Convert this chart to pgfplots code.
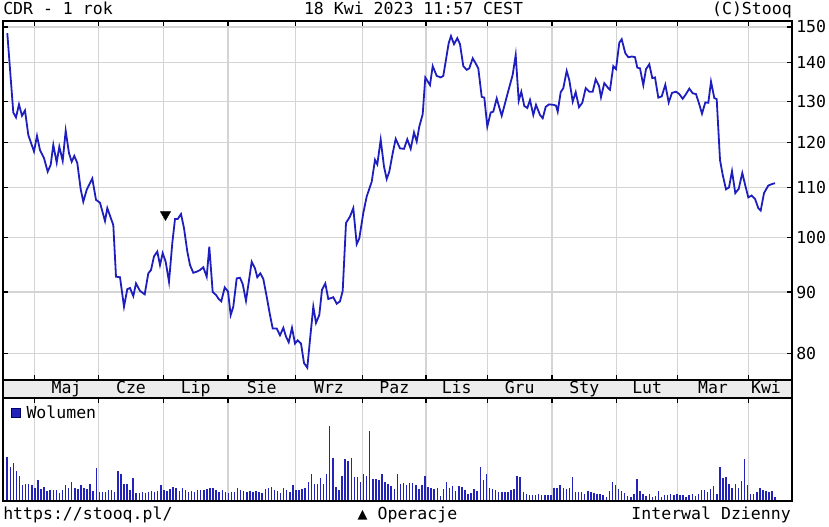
\documentclass[border=0pt]{standalone}
\usepackage{fontspec}
\setmainfont{DejaVu Sans Mono}
\usepackage{pgfplots}
\pgfplotsset{compat=1.18}
\definecolor{lineblue}{RGB}{30,30,190}
\definecolor{volblue}{RGB}{35,35,185}
\definecolor{gridgray}{RGB}{212,212,212}
\definecolor{bandgray}{RGB}{236,236,236}
\pgfplotsset{
  stq/.style={scale only axis, width=591.75pt, xmin=3, xmax=792,
    anchor=south west,
    axis line style={line width=1.2pt, black},
    xtick={34.3,98.7,163.3,228,295.3,362.7,426,487.3,552,616.7,677.7,748.3},
    xticklabels={},
    tick style={black, line width=0.9pt},
    major tick length=3.75pt,
    tick align=inside,
    grid style={gridgray, line width=0.9pt},
    xmajorgrids}
}
\begin{document}
\fontsize{12.4}{14}\selectfont
\begin{tikzpicture}
\path[use as bounding box] (0pt,0pt) rectangle (621.75pt,394.5pt);

% price panel
\begin{axis}[stq, at={(2.25pt,109.5pt)}, height=269.25pt,
  ymode=log, ymin=75.98, ymax=151.74,
  ytick={80,90,100,110,120,130,140,150},
  yticklabels={80,90,100,110,120,130,140,150},
  ymajorgrids, ytick pos=both, yticklabel pos=right, xtick pos=both,
  yticklabel style={anchor=west, inner sep=0pt, xshift=3pt}]
\addplot[lineblue, line width=1.35pt] coordinates {
(7.3,148.2)(13.3,127.2)(16,126.0)(19,129.2)(22,126.4)(25,127.7)(28.3,121.8)(34,118.0)(37,121.6)(40,118.3)
(44,116.5)(47.7,113.5)(50.7,115.0)(53.3,119.5)(56.7,115.5)(59.3,119.1)(62.7,115.9)(65.7,122.8)(69,117.6)(71.7,115.7)
(74.3,117.0)(77.3,115.4)(80.7,109.7)(83.3,107.1)(86.7,109.6)(92.3,112.0)(96,107.5)(100,106.9)(105,103.2)(107.3,105.8)
(113.3,102.4)(116,92.7)(120,92.6)(124,87.5)(127.3,90.5)(130,90.7)(133.3,89.3)(136,91.5)(140,90.2)(144.7,89.6)
(148.3,93.3)(151,93.9)(154,96.4)(157.3,97.3)(160,94.8)(162.7,97.0)(165.7,95.4)(169,91.8)(172.3,98.9)(175,103.6)
(177.7,103.6)(181,104.6)(184,101.8)(187.3,97.3)(190,94.8)(193.3,93.4)(196.7,93.6)(200,93.9)(203.3,94.4)(206.7,92.7)
(209.3,98.2)(212.7,90.0)(216,89.5)(218.7,88.8)(221.3,88.4)(224.7,90.8)(228,90.1)(230.7,86.1)(233.3,87.5)(236.7,92.4)
(240,92.5)(242.7,91.4)(246,88.5)(251.7,95.4)(255,94.2)(257.3,92.6)(260.3,93.3)(263.3,92.3)(266.7,89.2)(270,86.1)
(272.7,83.9)(276.7,83.9)(280,82.8)(283.3,84.0)(286,82.6)(288.7,81.7)(292,84.0)(295,81.5)(297.7,82.0)(301,81.5)
(304,78.5)(307.3,77.8)(310,82.1)(313.3,87.5)(316,84.8)(319.3,86.1)(322,90.4)(325.3,91.5)(328.3,88.8)(333.3,89.1)
(336.7,88.0)(340,88.4)(342.7,90.2)(346,102.8)(350,104.1)(353.3,105.8)(356.7,98.7)(359.3,99.8)(363.3,104.8)(366.7,108.2)
(371.7,111.3)(375,116.1)(377.3,115.1)(380.7,120.7)(384,114.6)(386.7,111.9)(389.3,113.5)(392.7,117.6)(395.7,120.9)(400,118.7)
(404,118.6)(407.3,120.8)(410.7,118.6)(414,122.4)(416.7,120.3)(419.3,123.8)(422.7,126.8)(425.3,136.1)(430,134.1)(432.7,139.1)
(436.7,136.5)(440.7,136.1)(443.3,136.5)(448.7,145.4)(451,147.4)(454,145.1)(457.3,146.8)(460,145.1)(463.3,139.1)(466.7,138.1)
(469.3,138.5)(472.7,141.2)(475.3,140.0)(478.3,138.5)(481.7,131.1)(484.3,130.9)(487.3,123.8)(490.7,127.2)(493.3,127.4)(496.7,130.7)
(501.7,126.4)(508.3,132.6)(512.7,136.8)(515.7,142.1)(518.7,130.1)(521.3,132.4)(524.3,128.8)(527.3,128.3)(530,130.3)(533.3,126.6)
(536,129.1)(540,126.6)(542.7,125.8)(545.7,128.6)(549,129.2)(553.3,129.1)(556,128.9)(557.7,127.4)(560.7,132.3)(563.3,133.3)
(566.7,137.8)(569.3,135.4)(572.7,129.9)(575.7,132.3)(579,128.5)(582.3,129.6)(585.7,133.3)(589.3,132.4)(592.7,132.4)(595.7,135.6)
(599,133.9)(601,131.0)(604.3,134.6)(608.3,133.3)(610,132.9)(613.3,139.1)(616,138.3)(619.3,145.5)(621.7,146.5)(625.3,142.6)
(628.3,141.5)(632,141.7)(635,141.5)(637.3,138.7)(640,138.5)(643.3,134.1)(646,138.3)(649.3,139.6)(652.3,135.9)(655,136.1)
(658.3,130.9)(661.7,131.2)(665.3,134.2)(668.7,129.7)(672,132.1)(676,132.4)(679.3,131.8)(682.7,130.6)(686,131.8)(689.3,133.2)
(692.7,132.0)(696,131.8)(699.3,129.2)(702,126.9)(705.3,129.7)(708.3,129.6)(711,135.0)(714.3,130.8)(716.7,130.5)(720,116.1)
(722.7,112.8)(726,109.7)(729,110.1)(732,113.6)(735.3,108.9)(738.7,109.8)(742.3,113.2)(745.3,110.5)(748.3,108.0)(751.7,108.4)
(755,107.7)(758.3,105.8)(760.7,105.3)(764,108.9)(768.3,110.5)(771.7,110.8)(775,111.0)
};
\addplot[only marks, mark=triangle*, mark size=4.4pt, mark options={rotate=180, fill=black, draw=black}] coordinates {(165.5,104.5)};
\end{axis}

% month band
\begin{axis}[at={(2.25pt,96pt)}, anchor=south west, scale only axis, width=591.75pt, height=13.5pt,
  xmin=3, xmax=792, ymin=0, ymax=1, xtick=\empty, ytick=\empty,
  axis line style={line width=1.2pt, black},
  axis background/.style={fill=bandgray}]
\end{axis}

% volume panel
\begin{axis}[stq, at={(2.25pt,18.75pt)}, height=77.25pt, ymin=-1, ymax=102, ytick=\empty,
  xtick pos=right,
  legend style={at={(axis description cs:0.0095,0.95)}, anchor=north west, draw=none, fill=none,
    inner sep=0pt, nodes={inner sep=1.5pt}},
  legend image code/.code={\draw[fill=volblue, draw=black!60!blue, line width=0.5pt] (0pt,-3.6pt) rectangle (7.2pt,3.6pt); \path (9.5pt,0pt);}]
\addplot[ycomb, draw=volblue, line width=1.1pt] table[row sep=\\, x expr={7.2+3.072*\coordindex}, y index=0] {
v\\
43\\33\\37\\29\\24\\15\\16\\16\\15\\12\\
20\\11\\13\\9\\10\\10\\10\\7\\10\\15\\
12\\18\\12\\11\\15\\12\\11\\16\\9\\32\\
8\\8\\8\\10\\10\\8\\29\\26\\16\\16\\
10\\22\\7\\7\\8\\7\\8\\9\\8\\9\\
15\\10\\9\\11\\13\\12\\9\\12\\10\\8\\
9\\8\\10\\10\\10\\11\\12\\12\\10\\8\\
10\\8\\7\\8\\8\\12\\10\\9\\8\\9\\
8\\9\\8\\7\\11\\12\\13\\10\\9\\7\\
12\\10\\8\\15\\10\\10\\11\\12\\18\\26\\
16\\16\\22\\16\\26\\74\\42\\13\\10\\24\\
41\\39\\42\\23\\23\\18\\26\\24\\69\\21\\
21\\20\\26\\18\\16\\14\\11\\26\\16\\17\\
15\\17\\17\\15\\11\\15\\24\\13\\12\\11\\
12\\4\\11\\18\\12\\14\\9\\14\\13\\10\\
6\\7\\11\\9\\33\\20\\26\\12\\11\\10\\
8\\8\\8\\8\\10\\11\\24\\23\\8\\6\\
5\\5\\5\\6\\5\\5\\5\\5\\12\\12\\
15\\12\\11\\12\\23\\8\\8\\8\\6\\9\\
8\\7\\6\\6\\5\\3\\9\\18\\15\\11\\
9\\7\\4\\3\\6\\21\\9\\6\\4\\6\\
3\\4\\9\\3\\5\\5\\6\\5\\6\\5\\
5\\3\\5\\6\\4\\6\\10\\10\\8\\11\\
14\\6\\33\\22\\23\\16\\12\\16\\12\\19\\
41\\15\\6\\6\\8\\12\\10\\9\\8\\9\\
3\\
};
\addlegendentry{Wolumen}
\end{axis}

\begin{scope}[x=0.75pt,y=0.75pt]
\node[anchor=base, inner sep=0pt] at (66.5,133) {Maj};
\node[anchor=base, inner sep=0pt] at (131,133) {Cze};
\node[anchor=base, inner sep=0pt] at (195.7,133) {Lip};
\node[anchor=base, inner sep=0pt] at (261.7,133) {Sie};
\node[anchor=base, inner sep=0pt] at (329,133) {Wrz};
\node[anchor=base, inner sep=0pt] at (394.3,133) {Paz};
\node[anchor=base, inner sep=0pt] at (456.7,133) {Lis};
\node[anchor=base, inner sep=0pt] at (519.7,133) {Gru};
\node[anchor=base, inner sep=0pt] at (584.3,133) {Sty};
\node[anchor=base, inner sep=0pt] at (647.2,133) {Lut};
\node[anchor=base, inner sep=0pt] at (713,133) {Mar};
\node[anchor=base, inner sep=0pt] at (766,133) {Kwi};
\node[anchor=base west, inner sep=0pt] at (3,511) {CDR - 1 rok};
\node[anchor=base, inner sep=0pt] at (413.5,511) {18 Kwi 2023 11:57 CEST};
\node[anchor=base east, inner sep=0pt] at (792,511) {(C)Stooq};
\node[anchor=base west, inner sep=0pt] at (3,7) {https://stooq.pl/};
\node[anchor=base, inner sep=0pt] at (407.5,7) {▲ Operacje};
\node[anchor=base east, inner sep=0pt] at (791,7) {Interwal Dzienny};
\end{scope}
\end{tikzpicture}
\end{document}
